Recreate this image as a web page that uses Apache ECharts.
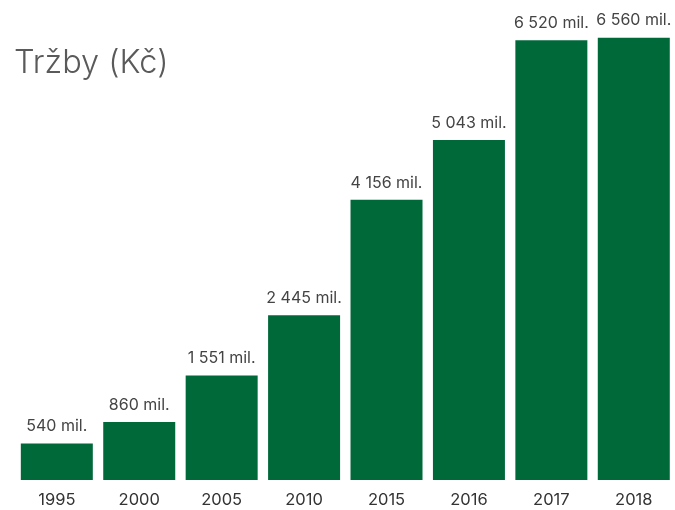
<!DOCTYPE html>
<html><head><meta charset="utf-8">
<script src="https://cdn.jsdelivr.net/npm/echarts@6/dist/echarts.min.js"></script>
<style>html,body{margin:0;padding:0;background:#fff}#c{width:675px;height:510px}</style>
</head><body><div id="c"></div>
<script>
const categories = ['1995','2000','2005','2010','2015','2016','2017','2018'];
const revenue = [540, 860, 1551, 2445, 4156, 5043, 6520, 6560];
const titleText = 'Tržby (Kč)';
function fmt(v){ return String(v).replace(/\B(?=(\d{3})+(?!\d))/g, ' ') + ' mil.'; }
const chart = echarts.init(document.getElementById('c'));
chart.setOption({
  animation: false,
  title: { text: titleText, left: 9, top: 42, textStyle: { fontFamily: 'Inter', fontSize: 32.5, fontWeight: 300, color: '#5a5a5a' } },
  grid: { left: 15.6, right: -2.4, top: 8, bottom: 30, containLabel: false },
  xAxis: { type: 'category', data: categories, axisLine: { show: false }, axisTick: { show: false },
    axisLabel: { fontFamily: 'Inter', fontSize: 16.5, color: '#333', margin: 12 } },
  yAxis: { type: 'value', min: 0, max: 7000, show: false, splitLine: { show: false } },
  series: [{ type: 'bar', data: revenue, barWidth: 72, itemStyle: { color: '#00693a' },
    label: { show: true, position: 'top', distance: 9, formatter: p => fmt(p.value), fontFamily: 'Inter', fontSize: 16, color: '#444' } }]
});
</script></body></html>
